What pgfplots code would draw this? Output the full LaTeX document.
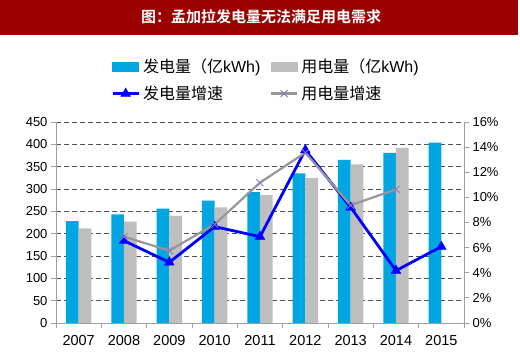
\documentclass[border=0pt]{standalone}
\usepackage{pgfplots}
\pgfplotsset{compat=1.18}
\usepackage{fontspec}
\setmainfont{Liberation Sans}
\newfontfamily\cjk{Noto Sans CJK SC}
\newfontfamily\cjkb{Noto Sans CJK SC Bold}
\definecolor{titlered}{HTML}{9B0000}
\definecolor{genblue}{HTML}{00A6E2}
\definecolor{usegray}{HTML}{BFBFBF}
\definecolor{lineblue}{HTML}{0000FF}
\definecolor{linegray}{HTML}{979797}
\definecolor{markpurple}{HTML}{8E78BE}
\definecolor{axgray}{HTML}{A0A0A0}
\definecolor{gridgray}{HTML}{505050}
\pgfplotsset{
  trilegend/.style={legend image code/.code={\draw[##1,mark=none] (0pt,0pt) -- (26pt,0pt);\path[##1] plot[mark=triangle*] coordinates {(13pt,0pt)};}},
  xlegend/.style={legend image code/.code={\draw[##1,mark=none] (0pt,0pt) -- (26pt,0pt);\path[##1] plot[mark=x] coordinates {(13pt,0pt)};}},
  genlegend/.style={legend image code/.code={\fill[genblue] (0pt,-4.5pt) rectangle (26pt,4.5pt);}},
  uselegend/.style={legend image code/.code={\fill[usegray] (0pt,-4.5pt) rectangle (26pt,4.5pt);}},
}
\begin{document}
\begin{tikzpicture}
\useasboundingbox (0pt,0pt) rectangle (520pt,355pt);
\fill[white] (0pt,0pt) rectangle (520pt,355pt);
\fill[titlered] (0pt,320pt) rectangle (518pt,355pt);
\node[text=white,font=\cjkb\fontsize{15}{18}\selectfont] at (261pt,338pt) {图：孟加拉发电量无法满足用电需求};
\begin{axis}[
  at={(56pt,32pt)}, anchor=south west,
  scale only axis, width=408pt, height=201pt,
  xmin=-0.5, xmax=8.5, ymin=0, ymax=450,
  xtick={-0.5,0.5,...,8.5},
  xticklabels={2007,2008,2009,2010,2011,2012,2013,2014,2015,{}},
  xticklabel style={xshift=22.67pt, yshift=-4pt, font=\fontsize{14.5}{16}\selectfont},
  ytick={0,50,...,450},
  yticklabel style={font=\fontsize{13}{15}\selectfont},
  /pgf/number format/assume math mode=true,
  tick align=outside, major tick length=5pt,
  tick style={axgray, line width=0.8pt},
  axis x line*=bottom, axis y line*=left,
  axis line style={axgray, line width=0.8pt, -},
  ymajorgrids,
  major grid style={gridgray, dash pattern=on 5pt off 3pt, line width=0.9pt},
  ybar, bar width=12.7pt,
]
\addplot[fill=genblue, draw=none, bar shift=-6.35pt] coordinates {
(0,228) (1,243) (2,256) (3,274) (4,293) (5,335) (6,365) (7,381) (8,404)};
\addplot[fill=usegray, draw=none, bar shift=6.35pt] coordinates {
(0,212) (1,227) (2,240) (3,259) (4,286) (5,325) (6,355) (7,392)};
\end{axis}
\begin{axis}[
  at={(56pt,32pt)}, anchor=south west,
  scale only axis, width=408pt, height=201pt,
  xmin=-0.5, xmax=8.5, ymin=0, ymax=16,
  xtick=\empty,
  ytick={0,2,...,16},
  yticklabel={\pgfmathprintnumber{\tick}\%},
  yticklabel style={font=\fontsize{13}{15}\selectfont},
  /pgf/number format/assume math mode=true,
  tick align=outside, major tick length=5pt,
  tick style={axgray, line width=0.8pt},
  axis x line=none, axis y line*=right,
  axis line style={axgray, line width=0.8pt, -},
  legend columns=2, legend cell align=left,
  legend style={at={(axis description cs:0.135,1.315)}, anchor=north west,
    draw=none, fill=none, inner sep=0pt, row sep=12pt,
    font=\fontsize{16}{18}\selectfont,
    nodes={inner sep=0pt},
    /tikz/every odd column/.append style={column sep=3pt}},
]
\addlegendimage{genlegend}
\addlegendentry{\makebox[127pt][l]{{\cjk 发电量（亿}kWh)}}
\addlegendimage{uselegend}
\addlegendentry{{\cjk 用电量（亿}kWh)}
\addplot[lineblue, line width=2.8pt, mark=triangle*, mark size=5.5pt,
  mark options={solid, fill=lineblue, draw=lineblue, line width=0.5pt}, trilegend]
coordinates {(1,6.55) (2,4.83) (3,7.67) (4,6.87) (5,13.77) (6,9.21) (7,4.17) (8,6.08)};
\addlegendentry{\makebox[127pt][l]{\cjk 发电量增速}}
\addplot[linegray, line width=2.2pt, mark=x, mark size=5pt,
  mark options={solid, draw=markpurple, line width=0.9pt}, xlegend]
coordinates {(1,6.87) (2,5.76) (3,7.86) (4,11.17) (5,13.56) (6,9.37) (7,10.64)};
\addlegendentry{{\cjk 用电量增速}}
\end{axis}
\end{tikzpicture}
\end{document}
